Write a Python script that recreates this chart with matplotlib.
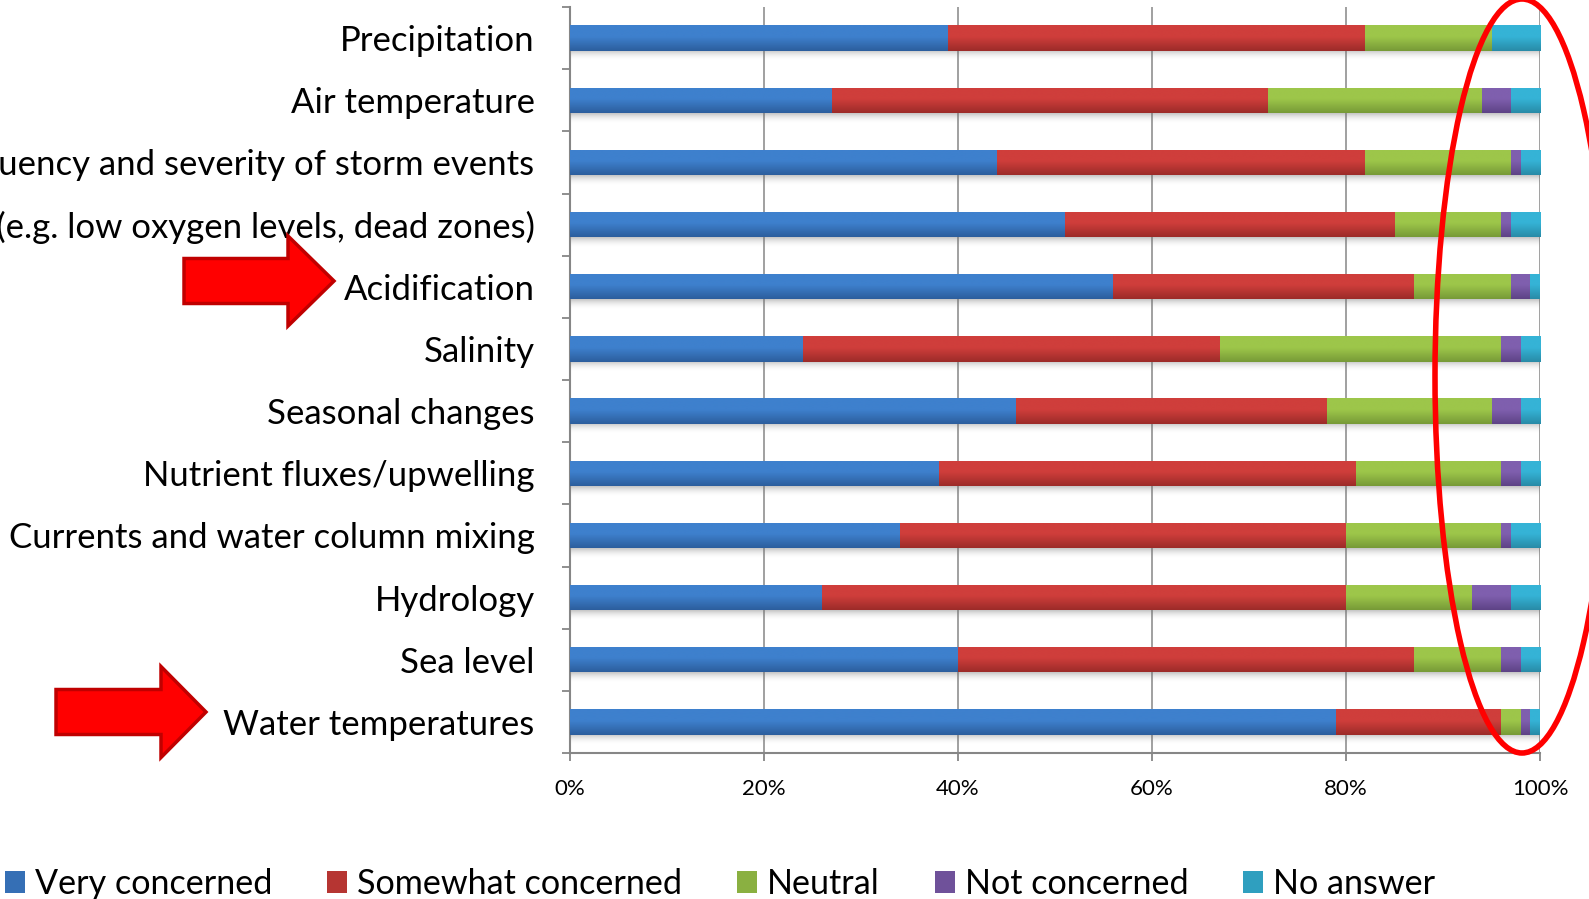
import matplotlib
matplotlib.use("Agg")
import numpy as np
import matplotlib.pyplot as plt
from matplotlib.colors import LinearSegmentedColormap, to_rgb
from matplotlib.patches import Patch, Ellipse, Polygon

plt.rcParams["font.family"] = ["Lato", "DejaVu Sans"]

# ---- data (percent of respondents), listed top to bottom ----
categories = [
    "Precipitation",
    "Air temperature",
    "Frequency and severity of storm events",
    "Hypoxia (e.g. low oxygen levels, dead zones)",
    "Acidification",
    "Salinity",
    "Seasonal changes",
    "Nutrient fluxes/upwelling",
    "Currents and water column mixing",
    "Hydrology",
    "Sea level",
    "Water temperatures",
]
very_concerned = [39, 27, 44, 51, 56, 24, 46, 38, 34, 26, 40, 79]
somewhat_concerned = [43, 45, 38, 34, 31, 43, 32, 43, 46, 54, 47, 17]
neutral = [13, 22, 15, 11, 10, 29, 17, 15, 16, 13, 9, 2]
not_concerned = [0, 3, 1, 1, 2, 2, 3, 2, 1, 4, 2, 1]
no_answer = [5, 3, 2, 3, 1, 2, 2, 2, 3, 3, 2, 1]
series_names = ["Very concerned", "Somewhat concerned", "Neutral",
                "Not concerned", "No answer"]
tick_values = [0, 20, 40, 60, 80, 100]

series = [very_concerned, somewhat_concerned, neutral, not_concerned, no_answer]
# (top, bottom) shades for the bar gradients
shades = [
    ("#3e80cd", "#2c5e9d"),
    ("#cf3e3b", "#9c2b29"),
    ("#9dc64a", "#779a37"),
    ("#7f5fae", "#5e4386"),
    ("#35b3d6", "#288ba7"),
]

W, H = 1589, 899
fig = plt.figure(figsize=(W / 100, H / 100), dpi=100)
ax = fig.add_axes([570 / W, 1 - 753 / H, 970 / W, 746 / H])

n = len(categories)
y = np.arange(n)
bar_h = 0.41
grad = np.linspace(0, 1, 64).reshape(-1, 1)

# soft shadow under each bar
shadow = np.zeros((32, 1, 4))
shadow[..., :3] = 0.45
shadow[:, 0, 3] = 0.42 * (1 - np.linspace(0, 1, 32)) ** 2
for yc in y:
    yb = yc + bar_h / 2
    ax.imshow(shadow, extent=(0, 100, yb + 0.17, yb), origin="upper",
              aspect="auto", zorder=2, interpolation="bilinear")

left = np.zeros(n)
handles = []
for vals, name, (c_top, c_bot) in zip(series, series_names, shades):
    vals = np.asarray(vals, dtype=float)
    mid = tuple((np.array(to_rgb(c_top)) + np.array(to_rgb(c_bot))) / 2)
    bars = ax.barh(y, vals, left=left, height=bar_h, color=mid,
                   linewidth=0, zorder=3)
    cmap = LinearSegmentedColormap.from_list(
        name, [(0, c_top), (0.45, c_top), (1, c_bot)])
    for rect in bars:
        if rect.get_width() <= 0:
            continue
        x0 = rect.get_x()
        x1 = x0 + rect.get_width()
        y0 = rect.get_y()
        y1 = y0 + rect.get_height()
        im = ax.imshow(grad, cmap=cmap, extent=(x0, x1, y1, y0),
                       origin="upper", aspect="auto", zorder=3.5,
                       interpolation="bilinear")
        im.set_clip_path(rect)
    handles.append(Patch(facecolor=mid, edgecolor="none"))
    left += vals

ax.set_xlim(0, 100)
ax.set_ylim(n - 0.5, -0.5)

grey = "#868686"
ax.set_xticks(tick_values, [f"{v}%" for v in tick_values])
ax.set_yticks(y, categories)
ax.set_yticks(np.arange(-0.5, n), minor=True)
ax.tick_params(axis="y", which="major", length=0, pad=25.5, labelsize=25)
ax.tick_params(axis="y", which="minor", length=5.5, width=1.3, color=grey)
ax.tick_params(axis="x", length=5.5, width=1.3, color=grey, pad=13,
               labelsize=16)
ax.grid(axis="x", color=grey, lw=1.1, zorder=1)
ax.set_axisbelow(True)
for side in ("top", "right"):
    ax.spines[side].set_visible(False)
for side in ("left", "bottom"):
    ax.spines[side].set_color(grey)
    ax.spines[side].set_linewidth(1.5)

fig.legend(handles, series_names, loc="center left",
           bbox_to_anchor=(5 / W, 1 - 884 / H), ncol=5, frameon=False,
           fontsize=24.6, handlelength=0.585, handleheight=0.62,
           handletextpad=0.29, columnspacing=1.61, borderaxespad=0,
           borderpad=0)


# ---- highlight annotations (figure pixel positions) ----
def fig_xy(px, py):
    return (px / W, 1 - py / H)


def block_arrow(x0, xh, xt, yc, body, head):
    pts = [(x0, yc - body), (xh, yc - body), (xh, yc - head), (xt, yc),
           (xh, yc + head), (xh, yc + body), (x0, yc + body)]
    poly = Polygon([fig_xy(px, py) for px, py in pts], closed=True,
                   transform=fig.transFigure, facecolor="#ff0000",
                   edgecolor="#c00000", linewidth=2.5, joinstyle="miter")
    fig.add_artist(poly)


block_arrow(184, 288, 334, 281, 22.5, 45)
block_arrow(56, 161, 206, 712, 22.5, 45.5)

ring = Ellipse(fig_xy(1522, 376), width=174 / W, height=754 / H,
               transform=fig.transFigure, fill=False, edgecolor="#ff0000",
               linewidth=4, clip_on=False)
fig.add_artist(ring)

fig.savefig("out.png", dpi=100)
